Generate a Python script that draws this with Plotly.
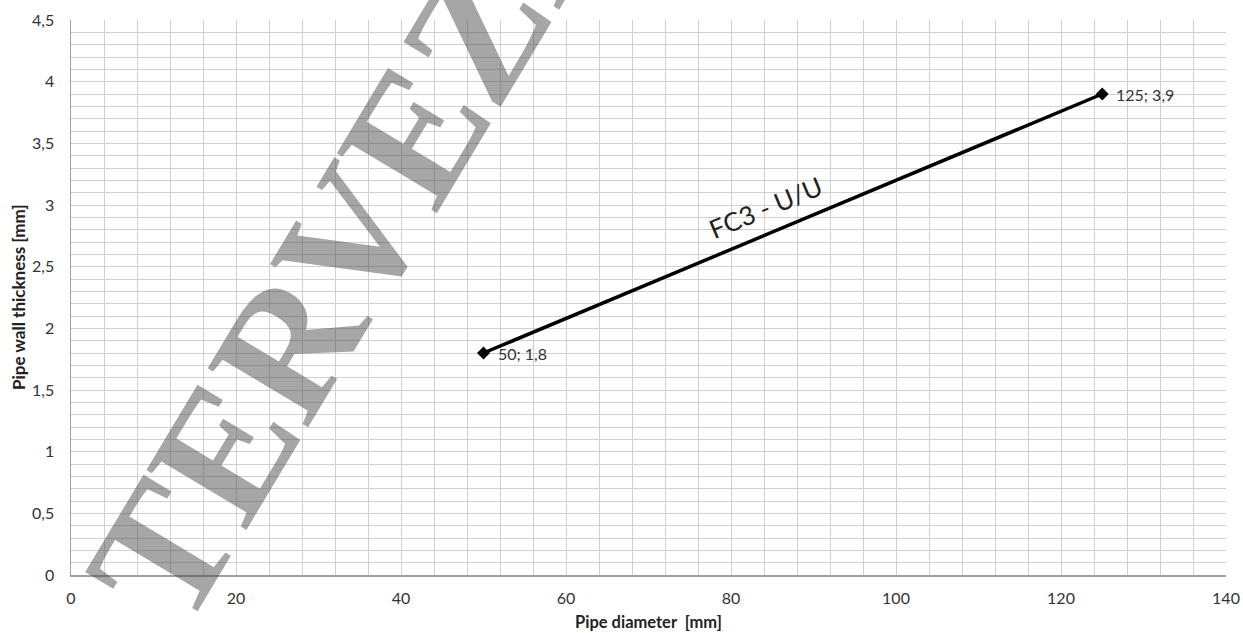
import plotly.graph_objects as go

# Data
pipe_diameter = [50, 125]
wall_thickness = [1.8, 3.9]
series_name = "FC3 - U/U"
x_ticks = [0, 20, 40, 60, 80, 100, 120, 140]
y_ticks = [0, 0.5, 1, 1.5, 2, 2.5, 3, 3.5, 4, 4.5]
y_tick_labels = ["0", "0,5", "1", "1,5", "2", "2,5", "3", "3,5", "4", "4,5"]
x_title = "Pipe diameter  [mm]"
y_title = "Pipe wall thickness [mm]"
watermark = "TERVEZET"


def fmt(v):
    return ("%g" % v).replace(".", ",")


point_labels = [f"{fmt(x)}; {fmt(y)}" for x, y in zip(pipe_diameter, wall_thickness)]

fig = go.Figure()
fig.add_trace(go.Scatter(
    x=pipe_diameter, y=wall_thickness, mode="lines+markers",
    line=dict(color="black", width=3.5),
    marker=dict(symbol="diamond", size=10, color="black"),
    name=series_name, showlegend=False, hoverinfo="skip",
))

grid_col = "#d0d0d0"
tick_font = dict(family="Lato", size=16, color="#333333")
fig.update_xaxes(
    range=[0, 140], tickvals=x_ticks, ticktext=[str(v) for v in x_ticks],
    showgrid=True, gridcolor=grid_col, gridwidth=1,
    minor=dict(dtick=4, showgrid=True, gridcolor=grid_col, gridwidth=1),
    showline=True, linecolor="#a0a0a0", linewidth=1.5, zeroline=False,
    ticks="", ticklabelstandoff=8, tickfont=tick_font,
    automargin=False, fixedrange=True,
)
fig.update_yaxes(
    range=[0, 4.5], tickvals=y_ticks, ticktext=y_tick_labels,
    showgrid=True, gridcolor=grid_col, gridwidth=1,
    minor=dict(dtick=0.1, showgrid=True, gridcolor=grid_col, gridwidth=1),
    showline=True, linecolor="#a0a0a0", linewidth=1.5, zeroline=False,
    ticks="", ticklabelstandoff=12, tickfont=tick_font,
    automargin=False, fixedrange=True,
)

annotations = []
for x, y, t in zip(pipe_diameter, wall_thickness, point_labels):
    annotations.append(dict(
        x=x, y=y, xref="x", yref="y", text=t, showarrow=False,
        xanchor="left", yanchor="middle", xshift=12,
        font=dict(family="Lato", size=16, color="#333333"),
    ))

# series label along the line
annotations.append(dict(
    x=84.3, y=2.98, xref="x", yref="y", text=series_name, showarrow=False,
    textangle=-22.6, font=dict(family="Lato", size=26, color="#222222"),
))

# axis titles
annotations.append(dict(
    x=0.5, y=(575 - 622) / 555, xref="paper", yref="paper", text=f"<b>{x_title}</b>",
    showarrow=False, xanchor="center", yanchor="middle",
    font=dict(family="Lato", size=16.5, color="#222222"),
))
annotations.append(dict(
    x=(18 - 71) / 1155, y=(575 - 297) / 555, xref="paper", yref="paper", text=f"<b>{y_title}</b>",
    showarrow=False, xanchor="center", yanchor="middle", textangle=-90,
    font=dict(family="Lato", size=17, color="#222222"),
))

# watermark
annotations.append(dict(
    x=(380 - 71) / 1155, y=(575 - 191) / 555, xref="paper", yref="paper",
    text=f"<b>{watermark}</b>", showarrow=False, textangle=-59,
    font=dict(family="Liberation Serif", size=178, color="rgba(70,70,70,0.48)"),
    xanchor="center", yanchor="middle",
))

fig.update_layout(
    width=1243, height=633,
    margin=dict(l=71, r=17, t=20, b=58),
    paper_bgcolor="white", plot_bgcolor="white",
    annotations=annotations,
    separators=", ",
)

fig.write_html(
    "out.html",
    config={"displayModeBar": False, "staticPlot": True},
    post_script="document.body.style.margin='0px';document.body.style.overflow='hidden';",
)
